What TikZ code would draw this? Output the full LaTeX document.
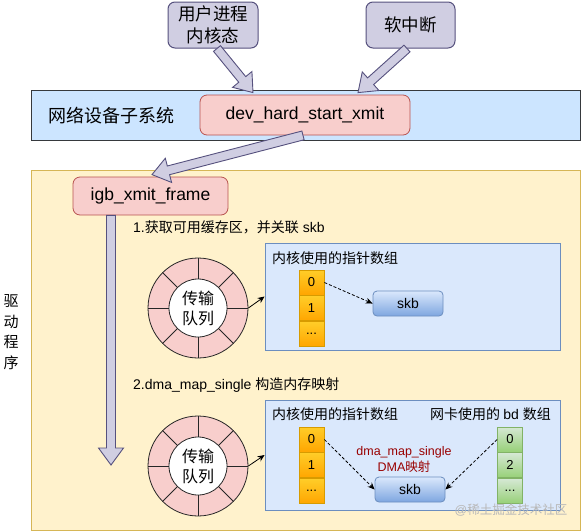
\documentclass[tikz,border=0pt]{standalone}
\usepackage{fontspec}
\setmainfont{Liberation Sans}
\newfontfamily\zhfont{Noto Sans CJK SC}
\newcommand{\zh}[1]{{\zhfont #1}}
\usepackage{tikz}
\usetikzlibrary{shapes.geometric, arrows.meta, positioning, calc}
\definecolor{lavfill}{HTML}{D0CEE2}
\definecolor{lavline}{HTML}{56517E}
\definecolor{bandfill}{HTML}{CCE5FF}
\definecolor{bandline}{HTML}{36393D}
\definecolor{pinkfill}{HTML}{F8CECC}
\definecolor{pinkline}{HTML}{B85450}
\definecolor{drvfill}{HTML}{FFF2CC}
\definecolor{drvline}{HTML}{D6B656}
\definecolor{panelfill}{HTML}{DAE8FC}
\definecolor{panelline}{HTML}{6C8EBF}
\definecolor{skbtop}{HTML}{DAE8FC}
\definecolor{skbbot}{HTML}{7EA6E0}
\definecolor{orgtop}{HTML}{FFCD28}
\definecolor{orgbot}{HTML}{FFA500}
\definecolor{orgline}{HTML}{D79B00}
\definecolor{grntop}{HTML}{D5E8D4}
\definecolor{grnbot}{HTML}{97D077}
\definecolor{grnline}{HTML}{82B366}
\definecolor{dmared}{HTML}{990000}
\tikzstyle{caller} = [rectangle,
rounded corners=7pt,
minimum height=46pt,
align=center,
line width=1pt,
draw=lavline, fill=lavfill,
font=\zhfont\fontsize{17.5}{22}\selectfont]
\tikzstyle{func} = [rectangle,
rounded corners=7pt,
line width=0.8pt,
draw=pinkline, fill=pinkfill,
font=\fontsize{17.5}{21}\selectfont]
\tikzstyle{netband} = [rectangle,
minimum width=549pt,
minimum height=50pt,
line width=1pt,
draw=bandline, fill=bandfill]
\tikzstyle{drvarea} = [rectangle,
minimum width=549pt,
minimum height=360pt,
line width=1pt,
draw=drvline, fill=drvfill]
\tikzstyle{panel} = [rectangle,
minimum width=295pt,
line width=0.8pt,
draw=panelline, fill=panelfill]
\tikzstyle{kcell} = [rectangle,
minimum width=25pt,
minimum height=25pt,
inner sep=0pt,
line width=0.8pt,
draw=orgline, top color=orgtop, bottom color=orgbot,
font=\fontsize{13}{15}\selectfont]
\tikzstyle{ncell} = [kcell,
draw=grnline, top color=grntop, bottom color=grnbot]
\tikzstyle{skbbox} = [rectangle,
rounded corners=4pt,
minimum width=70pt,
minimum height=25pt,
line width=0.8pt,
draw=panelline, top color=skbtop, bottom color=skbbot,
font=\fontsize{14}{16}\selectfont]
\tikzstyle{ring} = [circle,
minimum size=100pt,
inner sep=0pt,
line width=0.8pt,
draw=black!85, fill=pinkfill]
\tikzstyle{hub} = [circle,
minimum size=58pt,
inner sep=0pt,
align=center,
line width=0.8pt,
draw=black!85, fill=white,
font=\zhfont\fontsize{16}{20}\selectfont]
\tikzstyle{steptext} = [anchor=west, inner sep=0pt, font=\fontsize{14}{17}\selectfont]
\tikzstyle{paneltitle} = [inner sep=0pt, font=\zhfont\fontsize{14}{17}\selectfont]
\tikzstyle{arrow} = [line width=0.8pt, -{Stealth[length=7pt,width=6pt]}]
\tikzstyle{ptr} = [line width=0.8pt, dash pattern=on 3pt off 2pt, -{Stealth[length=7pt,width=6pt]}]
\tikzstyle{fat} = [line width=0.9pt, draw=lavline, fill=lavfill, line join=miter]
% hollow drawio-like arrow from #1 to #2
\newcommand{\fatarrow}[2]{%
  \coordinate (fat-base) at ($(#2)!17pt!(#1)$);
  \draw[fat] ($(#1)!4.5pt!90:(#2)$) -- ($(fat-base)!4.5pt!90:(#2)$)
    -- ($(fat-base)!12.5pt!90:(#2)$) -- (#2)
    -- ($(fat-base)!12.5pt!-90:(#2)$) -- ($(fat-base)!4.5pt!-90:(#2)$)
    -- ($(#1)!4.5pt!-90:(#2)$) -- cycle;
}
\begin{document}
\begin{tikzpicture}[x=1pt, y=-1pt]
\useasboundingbox (0,0) rectangle (581,531);
% callers
\node (user) [caller, minimum width=90pt] at (213,25) {用户进程\\内核态};
\node (soft) [caller, minimum width=89pt] at (410.5,25) {软中断};
% network device subsystem
\node (band) [netband] at (305.5,115.5) {};
\node (subsys) [font=\zhfont\fontsize{18}{21}\selectfont] at (111.5,116) {网络设备子系统};
\node (dev) [func, minimum width=210pt, minimum height=40pt] at (305,115) {dev\_hard\_start\_xmit};
% driver
\node (drv) [drvarea] at (305.5,350) {};
\node (igb) [func, minimum width=155pt, minimum height=38pt] at (150.5,196) {igb\_xmit\_frame};
\node (drvname) [align=center, font=\zhfont\fontsize{15}{20.5}\selectfont] at (11,332) {驱\\动\\程\\序};
\node (step1) [steptext] at (133,227) {1.\zh{获取可用缓存区，并关联} skb};
\node (step2) [steptext] at (133,385) {2.dma\_map\_single \zh{构造内存映射}};

% step 1
\node (ring1) [ring] at (198,308) {};
\foreach \a in {0,45,...,315}
    \draw[line width=0.8pt, black!85] ($(ring1.center)+(\a:29pt)$) -- ($(ring1.center)+(\a:50pt)$);
\node (hub1) [hub] at (ring1.center) {传输\\队列};
\node (panel1) [panel, minimum height=107pt] at (412.5,296.5) {};
\node (title1) [paneltitle, anchor=west] at (272,258) {内核使用的指针数组};
\node (ka0) [kcell] at (311.5,282.5) {0};
\node (ka1) [kcell, below=0pt of ka0] {1};
\node (ka2) [kcell, below=0pt of ka1] {...};
\node (skb1) [skbbox] at (408,303.5) {skb};

% step 2
\node (ring2) [ring] at (198,466) {};
\foreach \a in {0,45,...,315}
    \draw[line width=0.8pt, black!85] ($(ring2.center)+(\a:29pt)$) -- ($(ring2.center)+(\a:50pt)$);
\node (hub2) [hub] at (ring2.center) {传输\\队列};
\node (panel2) [panel, minimum height=110pt] at (412.5,455) {};
\node (title2) [paneltitle, anchor=west] at (272,414) {内核使用的指针数组};
\node (title3) [paneltitle, anchor=east] at (551,414) {网卡使用的 \fontspec{Liberation Sans}bd \zhfont 数组};
\node (kb0) [kcell] at (311.5,439.5) {0};
\node (kb1) [kcell, below=0pt of kb0] {1};
\node (kb2) [kcell, below=0pt of kb1] {...};
\node (nb0) [ncell] at (510,439.5) {0};
\node (nb1) [ncell, below=0pt of nb0] {2};
\node (nb2) [ncell, below=0pt of nb1] {...};
\node (skb2) [skbbox] at (410,489.5) {skb};
\node (dma) [align=center, text=dmared, font=\fontsize{12.5}{16}\selectfont] at (404,459) {dma\_map\_single\\DMA\zh{映射}};
\node (mark) [text=black!28, font=\fontsize{12.5}{15}\selectfont] at (511,510) {@\zh{稀土掘金技术社区}};

\draw [arrow] (ring1.east) -- (panel1.west);
\draw [arrow] (ring2.east) -- (panel2.west);
\draw [ptr] (ka0.east) -- (skb1.west);
\draw [ptr] (kb0.east) -- (skb2.west);
\draw [ptr] (nb0.west) -- (skb2.east);

% call flow
\coordinate (userout) at ($(user.south)+(4,0)$);
\coordinate (softout) at ($(soft.south)+(-3.5,0)$);
\coordinate (devin1) at ($(dev.north)+(-52,-2)$);
\coordinate (devin2) at ($(dev.north)+(53,-2)$);
\coordinate (devout) at ($(dev.south)+(-2,0)$);
\coordinate (igbin) at ($(igb.north)+(1.5,-2)$);
\coordinate (drvend) at (111,465);
\coordinate (igbout) at (igb.south -| drvend);
\fatarrow{userout}{devin1}
\fatarrow{softout}{devin2}
\fatarrow{devout}{igbin}
\fatarrow{igbout}{drvend}
\end{tikzpicture}
\end{document}
